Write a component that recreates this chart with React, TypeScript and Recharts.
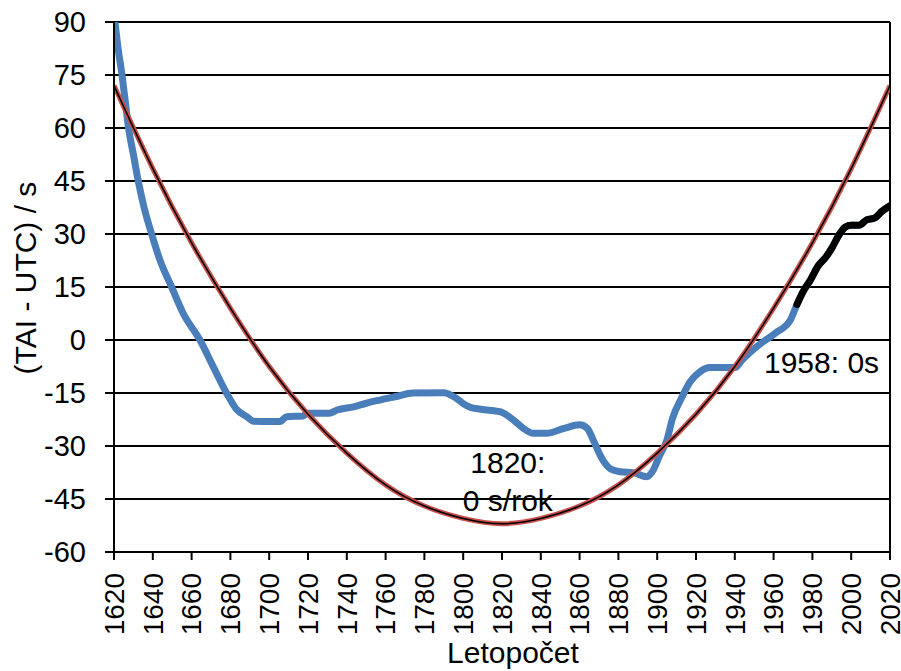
import {
  CartesianGrid,
  Label,
  Line,
  LineChart,
  ReferenceDot,
  ReferenceLine,
  XAxis,
  YAxis,
} from "recharts";

const yTicks = [-60, -45, -30, -15, 0, 15, 30, 45, 60, 75, 90];
const xTicks = [
  1620, 1640, 1660, 1680, 1700, 1720, 1740, 1760, 1780, 1800, 1820, 1840, 1860,
  1880, 1900, 1920, 1940, 1960, 1980, 2000, 2020,
];

// TAI - UTC, reconstructed series (blue)
const histYears = [
  1620.5, 1622, 1624, 1625.7, 1627.5, 1630, 1632.5, 1635.5, 1639.4, 1643.7,
  1649.7, 1655.7, 1664.3, 1671.2, 1678, 1683, 1688.4, 1692, 1700, 1705.5,
  1709, 1717.5, 1719.5, 1731, 1735, 1743.5, 1750, 1757, 1765.5, 1774, 1790,
  1796.5, 1800, 1803.5, 1809, 1819, 1826, 1831, 1836, 1843, 1852, 1860, 1864,
  1867, 1872, 1876, 1881, 1888, 1894.5, 1898, 1901, 1905, 1908, 1912, 1917,
  1922, 1927, 1940, 1944, 1951, 1961, 1968.5,
];
const histValues = [
  90, 83, 75.5, 68, 60, 52.5, 45, 37.5, 30, 22.6, 15, 7.5, 0, -7.6, -15,
  -19.5, -21.7, -23, -23.1, -23.1, -21.7, -21.5, -20.7, -20.7, -19.8, -18.9,
  -17.9, -17, -16, -15, -14.9, -16.5, -18, -19, -19.6, -20.3, -22.7, -25,
  -26.4, -26.4, -25, -24, -25, -28.3, -34, -36.5, -37.3, -37.6, -38.7, -36.8,
  -33, -28.3, -22, -17, -11.8, -9, -7.8, -7.8, -5.5, -2, 2, 5.5,
];

// measured period (black)
const recentYears = [
  1972, 1975, 1979, 1983, 1987, 1990, 1994, 1997, 2000, 2004, 2008, 2012, 2016,
  2020,
];
const recentValues = [
  10, 13.5, 17, 21, 23.5, 26, 30, 32, 32.5, 32.5, 34, 34.5, 36.5, 38,
];

// fitted parabola (red)
const fitYears = [
  1620, 1640, 1660, 1680, 1700, 1720, 1740, 1760, 1780, 1800, 1820, 1840, 1860,
  1880, 1900, 1920, 1940, 1960, 1980, 2000, 2020,
];
const fitValues = [
  72, 48.5, 27.5, 9, -7.5, -21, -32, -41, -47, -50.5, -52, -50.5, -47, -41,
  -32, -21, -7.5, 9, 27.5, 48.5, 72,
];

const toPoints = (xs: number[], ys: number[]) =>
  xs.map((year, i) => ({ year, value: ys[i] }));

const blueData = toPoints(
  [...histYears, ...recentYears],
  [...histValues, ...recentValues],
);
const blackData = toPoints(recentYears, recentValues);
const fitData = toPoints(fitYears, fitValues);

const FONT = "'Liberation Sans', Arial, sans-serif";

function YearTick({ x, y, payload }: any) {
  return (
    <text
      x={x}
      y={y}
      transform={`rotate(-90 ${x} ${y})`}
      textAnchor="end"
      dy="0.35em"
      fontSize={28}
      fill="#000"
      fontFamily={FONT}
    >
      {payload.value}
    </text>
  );
}

export default function App() {
  return (
    <div style={{ position: "absolute", left: 0, top: 0, background: "#fff", fontFamily: FONT }}>
      <LineChart width={901} height={671} margin={{ top: 22, right: 11, left: 0, bottom: 0 }}>
        <CartesianGrid vertical={false} stroke="#000" strokeWidth={2} />
        <XAxis
          dataKey="year"
          type="number"
          domain={[1620, 2020]}
          ticks={xTicks}
          interval={0}
          allowDataOverflow
          height={119}
          stroke="#000"
          strokeWidth={2}
          tickSize={8}
          tickMargin={13}
          tick={<YearTick />}
        >
          <Label
            value="Letopočet"
            position="insideBottom"
            offset={8}
            dx={11}
            fontSize={30}
            fill="#000"
            fontFamily={FONT}
          />
        </XAxis>
        <YAxis
          dataKey="value"
          type="number"
          domain={[-60, 90]}
          ticks={yTicks}
          interval={0}
          allowDataOverflow
          width={114}
          stroke="#000"
          strokeWidth={2}
          tickSize={9}
          tickMargin={19}
          tick={{ fontSize: 29, fill: "#000", fontFamily: FONT }}
        >
          <Label
            value="(TAI - UTC) / s"
            angle={-90}
            position="center"
            dx={-32}
            dy={-9}
            fontSize={30}
            fill="#000"
            fontFamily={FONT}
          />
        </YAxis>
        <ReferenceLine x={2020} stroke="#000" strokeWidth={2} />
        <Line
          data={blueData}
          dataKey="value"
          type="monotone"
          stroke="#4a7ebb"
          strokeWidth={7}
          strokeLinecap="round"
          strokeLinejoin="round"
          dot={false}
          isAnimationActive={false}
        />
        <Line
          data={blackData}
          dataKey="value"
          type="monotone"
          stroke="#000"
          strokeWidth={7}
          strokeLinecap="round"
          strokeLinejoin="round"
          dot={false}
          isAnimationActive={false}
        />
        <Line
          data={fitData}
          dataKey="value"
          type="natural"
          stroke="#c9504a"
          strokeWidth={5}
          dot={false}
          isAnimationActive={false}
        />
        <Line
          data={fitData}
          dataKey="value"
          type="natural"
          stroke="#000"
          strokeWidth={1.6}
          dot={false}
          isAnimationActive={false}
        />
        <ReferenceDot
          x={1823}
          y={-34.7}
          r={0}
          stroke="none"
          label={{ value: "1820:", position: "center", fontSize: 30, fill: "#000", fontFamily: FONT }}
        />
        <ReferenceDot
          x={1823}
          y={-45.5}
          r={0}
          stroke="none"
          label={{ value: "0 s/rok", position: "center", fontSize: 30, fill: "#000", fontFamily: FONT }}
        />
        <ReferenceDot
          x={1984.7}
          y={-6.4}
          r={0}
          stroke="none"
          label={{ value: "1958: 0s", position: "center", fontSize: 30, fill: "#000", fontFamily: FONT }}
        />
      </LineChart>
    </div>
  );
}
